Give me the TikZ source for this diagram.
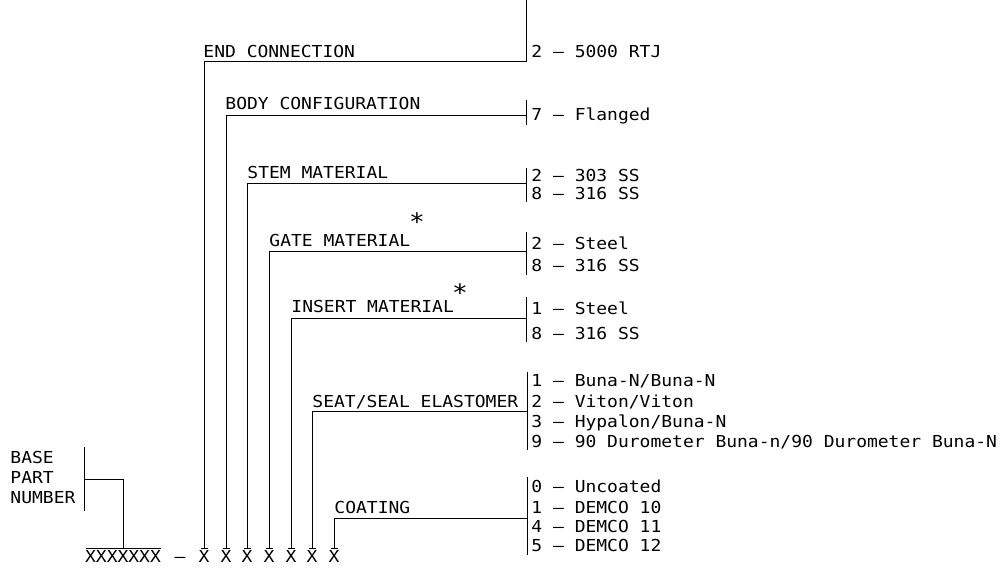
\documentclass[tikz,border=0pt]{standalone}
\usepackage{fontspec}
\setmainfont{DejaVu Sans Mono}[FakeStretch=1.09]
\begin{document}
\begin{tikzpicture}[x=1pt,y=-1pt,line width=0.9pt,
  txt/.style={inner sep=0pt,anchor=base west,font=\fontsize{16.5}{18}\selectfont},
  xch/.style={inner xsep=0pt,inner ysep=1.5pt,anchor=base,font=\fontsize{16.5}{18}\selectfont},
  star/.style={inner sep=0pt,font=\fontsize{24}{26}\selectfont}]
\useasboundingbox (0,0) rectangle (1002,569);
% bottom row
\node[xch] (base) at (123,562) {XXXXXXX};
\node[txt,anchor=base] (dash) at (180,562) {–};
\foreach \i/\x in {1/204,2/226,3/247,4/269,5/291,6/312,7/334}{
  \node[xch] (x\i) at (\x,562) {X};
  \draw ([xshift=-3.5pt]x\i.north) -- ([xshift=3.5pt]x\i.north);
}
\draw (86,548.5) -- (161,548.5);
% base part number
\node[txt] (bp1) at (10,463) {BASE};
\node[txt] (bp2) at (10,483) {PART};
\node[txt] (bp3) at (10,503) {NUMBER};
\coordinate (bpT) at (84,447); \coordinate (bpB) at (84,511); \coordinate (bpJ) at (84,479);
\draw (bpT) -- (bpB);
\draw (bpJ) -| (base.north);
% END CONNECTION
\node[txt] (lEnd) at (203,58) {END CONNECTION};
\coordinate (eT) at (526,0); \coordinate (eB) at (526,62); \coordinate (eJ) at (526,61);
\draw (eT) -- (eB);
\draw (eJ) -| (x1.north);
\node[txt] (oEnd) at (531,58) {2 – 5000 RTJ};
% BODY CONFIGURATION
\node[txt] (lBody) at (225,110) {BODY CONFIGURATION};
\coordinate (bT) at (526,100); \coordinate (bB) at (526,125); \coordinate (bJ) at (526,115.5);
\draw (bT) -- (bB);
\draw (bJ) -| (x2.north);
\node[txt] (oBody) at (531,121) {7 – Flanged};
% STEM MATERIAL
\node[txt] (lStem) at (247,179) {STEM MATERIAL};
\coordinate (sT) at (526,168); \coordinate (sB) at (526,202); \coordinate (sJ) at (526,183);
\draw (sT) -- (sB);
\draw (sJ) -| (x3.north);
\node[txt] (oStem1) at (531,182) {2 – 303 SS};
\node[txt] (oStem2) at (531,200) {8 – 316 SS};
% GATE MATERIAL
\node[txt] (lGate) at (269,247) {GATE MATERIAL};
\node[star] (sGate) at (417,222) {*};
\coordinate (gT) at (526,232); \coordinate (gB) at (526,275); \coordinate (gJ) at (526,251.5);
\draw (gT) -- (gB);
\draw (gJ) -| (x4.north);
\node[txt] (oGate1) at (531,250) {2 – Steel};
\node[txt] (oGate2) at (531,272) {8 – 316 SS};
% INSERT MATERIAL
\node[txt] (lIns) at (291,313) {INSERT MATERIAL};
\node[star] (sIns) at (460,293) {*};
\coordinate (iT) at (526,297); \coordinate (iB) at (526,342); \coordinate (iJ) at (526,318);
\draw (iT) -- (iB);
\draw (iJ) -| (x5.north);
\node[txt] (oIns1) at (531,315) {1 – Steel};
\node[txt] (oIns2) at (531,340) {8 – 316 SS};
% SEAT/SEAL ELASTOMER
\node[txt] (lSeat) at (312,407) {SEAT/SEAL ELASTOMER};
\coordinate (tT) at (527,372); \coordinate (tB) at (527,450); \coordinate (tJ) at (527,411);
\draw (tT) -- (tB);
\draw (tJ) -| (x6.north);
\node[txt] (oSeat1) at (531,387) {1 – Buna-N/Buna-N};
\node[txt] (oSeat2) at (531,407) {2 – Viton/Viton};
\node[txt] (oSeat3) at (531,428) {3 – Hypalon/Buna-N};
\node[txt] (oSeat4) at (531,447) {9 – 90 Durometer Buna-n/90 Durometer Buna-N};
% COATING
\node[txt] (lCoat) at (334,513) {COATING};
\coordinate (cT) at (527,477); \coordinate (cB) at (527,555); \coordinate (cJ) at (527,518);
\draw (cT) -- (cB);
\draw (cJ) -| (x7.north);
\node[txt] (oCoat1) at (531,492) {0 – Uncoated};
\node[txt] (oCoat2) at (531,513) {1 – DEMCO 10};
\node[txt] (oCoat3) at (531,532) {4 – DEMCO 11};
\node[txt] (oCoat4) at (531,551) {5 – DEMCO 12};
\end{tikzpicture}
\end{document}
